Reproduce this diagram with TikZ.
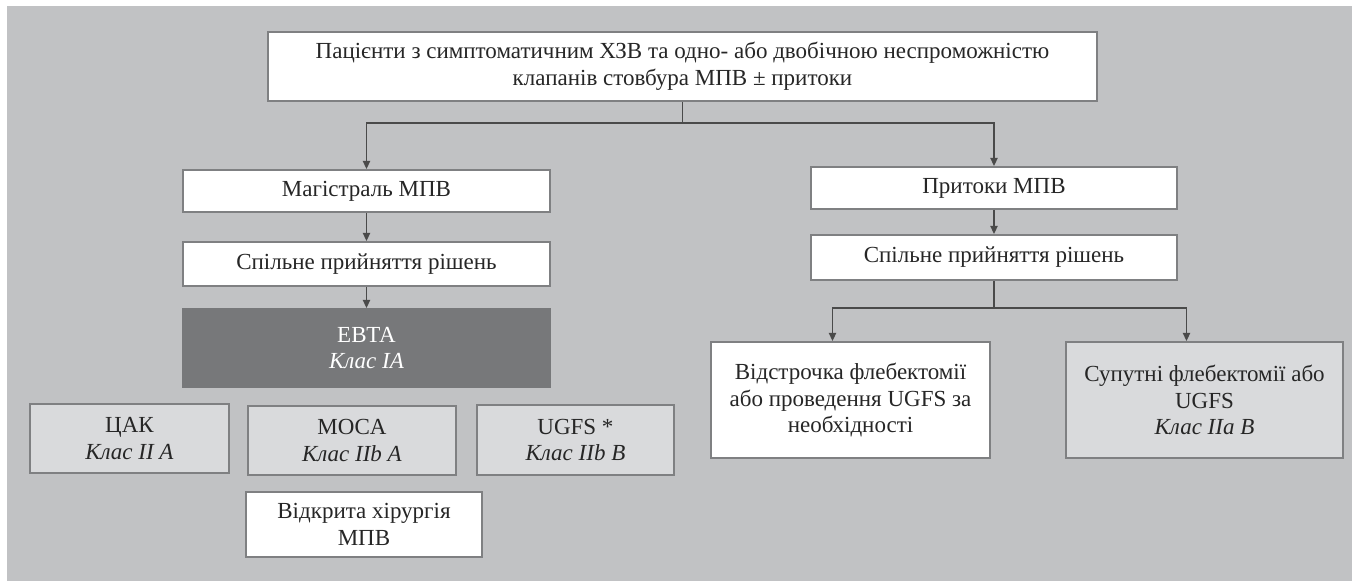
\documentclass[tikz,border=0pt]{standalone}
\usepackage{fontspec}
\setmainfont{Liberation Serif}
\usetikzlibrary{arrows.meta,calc}

\definecolor{bggray}{HTML}{C1C2C4}
\definecolor{rimgray}{HTML}{7F8082}
\definecolor{lightfill}{HTML}{D9DADC}
\definecolor{evtafill}{HTML}{77787A}
\definecolor{wire}{HTML}{4A4A4A}
\definecolor{ink}{HTML}{262626}

\tikzset{
  box/.style={draw=rimgray, line width=1pt, fill=white, text=ink, align=center,
    inner sep=0pt, font=\fontsize{11.5}{13.4}\selectfont},
  greybox/.style={box, fill=lightfill},
  evtabox/.style={box, fill=evtafill, draw=evtafill, text=white},
  link/.style={draw=wire, line width=0.75pt, -{Triangle[length=4pt,width=3.6pt]}}
}

\begin{document}
\begin{tikzpicture}[x=0.5pt, y=-0.5pt]
  \useasboundingbox (0,0) rectangle (1357,582);
  \fill[bggray] (7,6) rectangle (1352,581);

  \node[box, minimum width=414.5pt, minimum height=34.5pt] (pat) at (682.5,66.5)
    {Пацієнти з симптоматичним ХЗВ та одно- або двобічною неспроможністю\\клапанів стовбура МПВ ± притоки};

  \node[box, minimum width=183.5pt, minimum height=21pt] (trunk) at (366.5,191) {Магістраль МПВ};
  \node[box, minimum width=183.5pt, minimum height=22pt] (sdmL) at (366.5,264) {Спільне прийняття рішень};
  \node[evtabox, minimum width=183.5pt, minimum height=39pt] (evta) at (366.5,348) {ЕВТА\\\textit{Клас IA}};

  \node[greybox, minimum width=99.5pt, minimum height=34.5pt] (cak) at (129.5,438.5) {ЦАК\\\textit{Клас II A}};
  \node[greybox, minimum width=104pt, minimum height=34.5pt] (moca) at (352,440.5) {MOCA\\\textit{Клас IIb A}};
  \node[greybox, minimum width=98.5pt, minimum height=35pt] (ugfs) at (575.5,440) {UGFS *\\\textit{Клас IIb B}};
  \node[box, minimum width=118pt, minimum height=32.5pt] (open) at (364,524.5) {Відкрита хірургія\\МПВ};

  \node[box, minimum width=183pt, minimum height=21pt] (trib) at (994,188) {Притоки МПВ};
  \node[box, minimum width=183pt, minimum height=22.5pt] (sdmR) at (994,257.5) {Спільне прийняття рішень};
  \node[box, minimum width=139.5pt, minimum height=58pt] (defer) at (850.5,400)
    {Відстрочка флебектомії\\або проведення UGFS за\\необхідності};
  \node[greybox, minimum width=138.5pt, minimum height=58pt] (conc) at (1204.5,400)
    {Супутні флебектомії або\\UGFS\\\textit{Клас IIa B}};

  \coordinate (forkA) at ($(pat.south)+(0,21)$);
  \draw[link] (pat.south) -- (forkA) -| (trunk.north);
  \draw[link] (forkA) -| (trib.north);
  \draw[link] (trunk.south) -- (sdmL.north);
  \draw[link] (sdmL.south) -- (evta.north);
  \draw[link] (trib.south) -- (sdmR.north);

  \coordinate (forkB) at ($(sdmR.south)+(0,27)$);
  \draw[link] (sdmR.south) -- (forkB) -| ($(defer.north)+(-18,0)$);
  \draw[link] (forkB) -| ($(conc.north)+(-18,0)$);
\end{tikzpicture}
\end{document}
